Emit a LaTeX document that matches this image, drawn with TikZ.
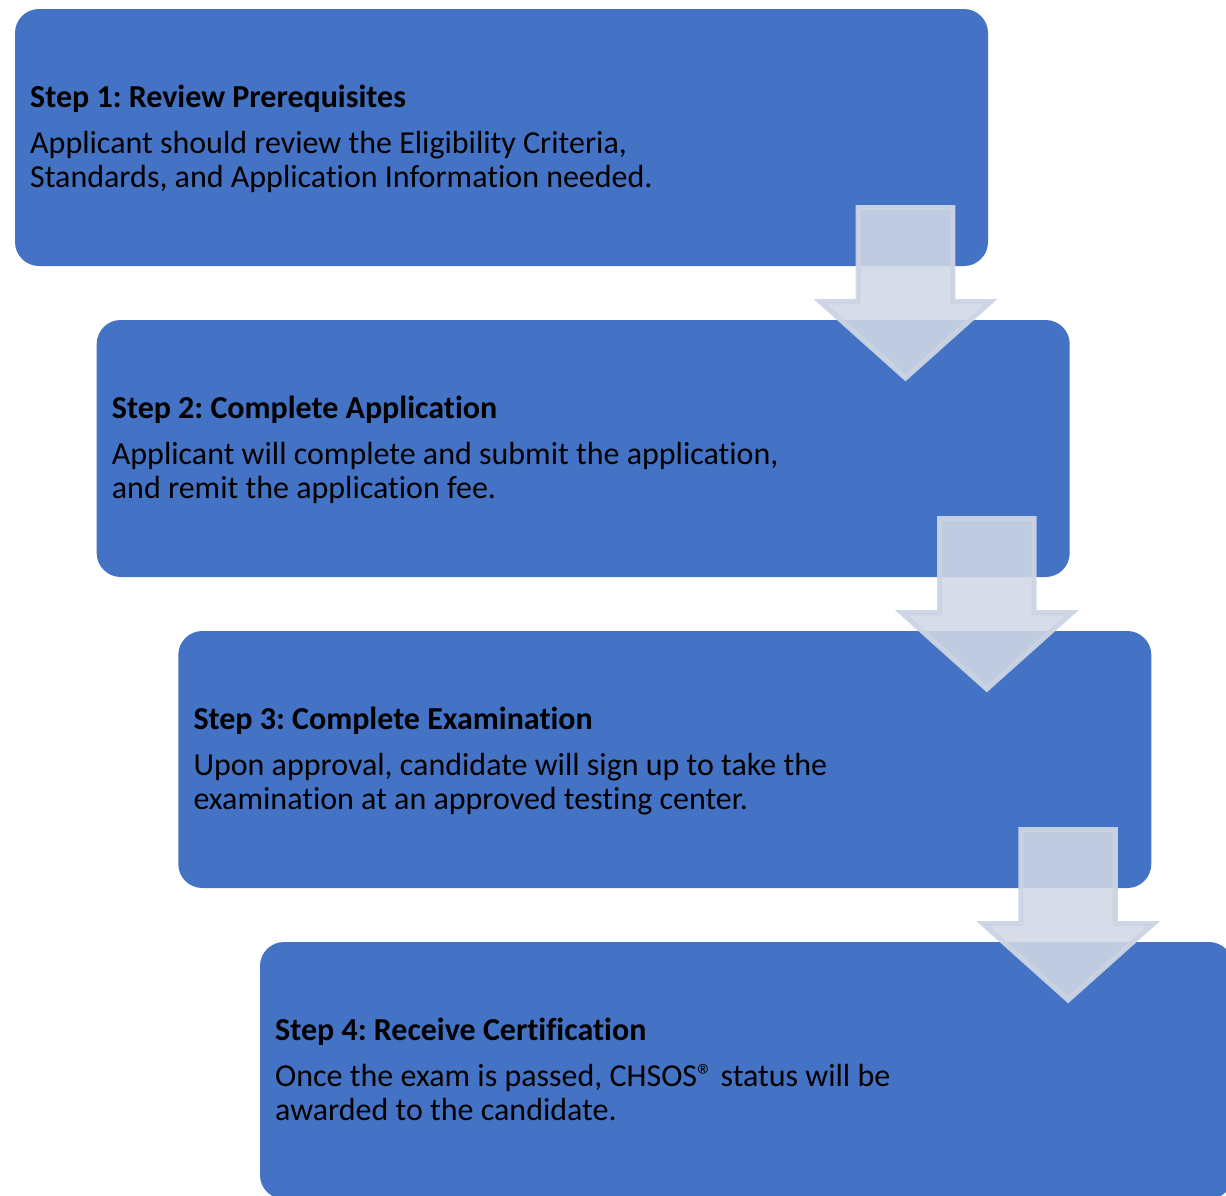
\documentclass[tikz,border=0pt]{standalone}
\usepackage{fontspec}
\setmainfont[Ligatures={NoCommon}]{Carlito}
\definecolor{boxblue}{RGB}{68,114,196}
\definecolor{arrfill}{RGB}{208,216,229}
\definecolor{arrline}{RGB}{204,212,228}
\frenchspacing
\begin{document}
\begin{tikzpicture}[x=1pt,y=-1pt,
  stepbox/.style={draw=none, fill=boxblue, rounded corners=24pt, minimum width=973pt, minimum height=257pt, anchor=north west, inner sep=0pt, outer sep=0pt},
  steptitle/.style={anchor=base west, inner sep=0pt, font=\fontsize{32}{34}\selectfont\bfseries},
  stepbody/.style={anchor=base west, inner sep=0pt, font=\fontsize{32}{34}\selectfont},
  bigarrow/.style={fill=arrfill, fill opacity=0.88, draw=arrline, draw opacity=0.95, line width=5pt, line join=miter}]
\useasboundingbox (0,0) rectangle (1226,1195);
\clip (0,0) rectangle (1226,1195);
% boxes
\node[stepbox] (box1) at (15,9) {};
\node[stepbox] (box2) at (96.7,320) {};
\node[stepbox] (box3) at (178.3,631) {};
\node[stepbox] (box4) at (260,942) {};
% texts
\foreach \b/\t/\la/\lb in {
  box1/{Step 1: Review Prerequisites}/{Applicant should review the Eligibility Criteria,}/{Standards, and Application Information needed.},
  box2/{Step 2: Complete Application}/{Applicant will complete and submit the application,}/{and remit the application fee.},
  box3/{Step 3: Complete Examination}/{Upon approval, candidate will sign up to take the}/{examination at an approved testing center.},
  box4/{Step 4: Receive Certification}/{Once the exam is passed, CHSOS® status will be}/{awarded to the candidate.}}{
  \node[steptitle] (\b t) at ([shift={(15,98.3)}]\b.north west) {\t};
  \node[stepbody] (\b a) at ([shift={(15,144.3)}]\b.north west) {\la};
  \node[stepbody] (\b b) at ([shift={(15,178.8)}]\b.north west) {\lb};
}
% arrows
\foreach \i in {0,1,2}{
  \pgfmathsetmacro{\dx}{81.3*\i}
  \pgfmathsetmacro{\dy}{311*\i}
  \begin{scope}[shift={(\dx,\dy)}]
    \draw[bigarrow] (858.2,207.5) -- (952.8,207.5) -- (952.8,301.5) -- (991,301.5)
      -- (905.5,378) -- (820,301.5) -- (858.2,301.5) -- cycle;
  \end{scope}
}
\end{tikzpicture}
\end{document}
